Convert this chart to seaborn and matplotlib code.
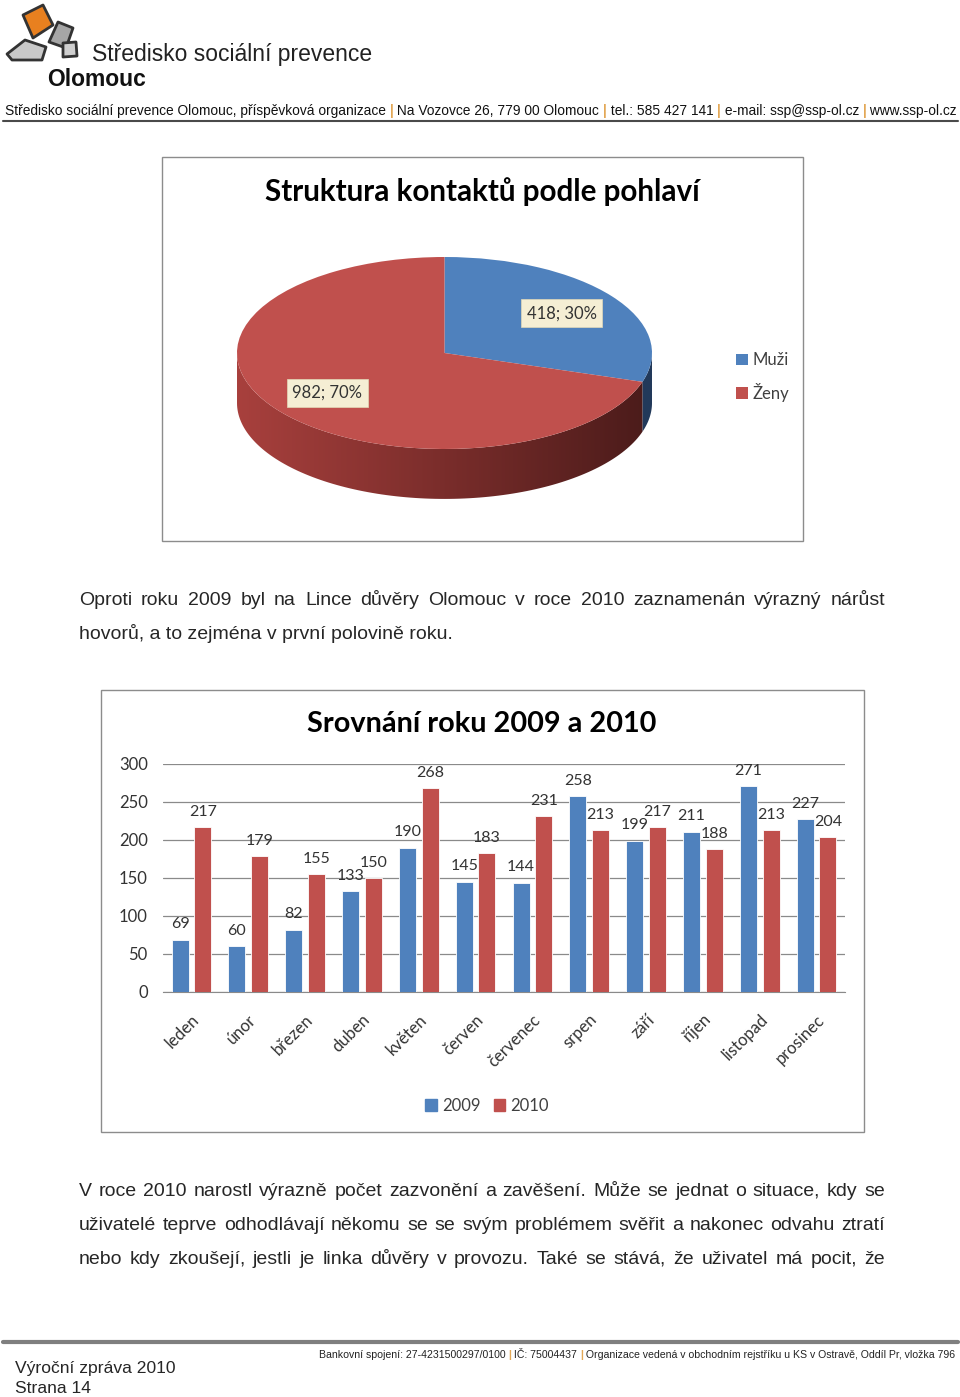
import numpy as np
import pandas as pd
import matplotlib
matplotlib.use("Agg")
import matplotlib.pyplot as plt
from matplotlib import font_manager
from matplotlib.patches import Polygon, Rectangle, Patch
from matplotlib.colors import LinearSegmentedColormap
import seaborn as sns

# ---- data ----
gender_labels = ["Muži", "Ženy"]
gender_counts = [418, 982]

months = ["leden", "únor", "březen", "duben", "květen", "červen",
          "červenec", "srpen", "září", "říjen", "listopad", "prosinec"]
calls_2009 = [69, 60, 82, 133, 190, 145, 144, 258, 199, 211, 271, 227]
calls_2010 = [217, 179, 155, 150, 268, 183, 231, 213, 217, 188, 213, 204]
years = ["2009", "2010"]

para1 = ["Oproti roku 2009 byl na Lince důvěry Olomouc v roce 2010 zaznamenán výrazný nárůst",
         "hovorů, a to zejména v první polovině roku."]
para2 = ["V roce 2010 narostl výrazně počet zazvonění a zavěšení. Může se jednat o situace, kdy se",
         "uživatelé teprve odhodlávají někomu se se svým problémem svěřit a nakonec odvahu ztratí",
         "nebo kdy zkoušejí, jestli je linka důvěry v provozu. Také se stává, že uživatel má pocit, že"]

BLUE = "#4F81BD"
RED = "#C0504D"
GOLD = "#E3A857"

sns.set_style("white")
plt.rcParams['font.family'] = ['Liberation Sans', 'DejaVu Sans']
chart_font = ['Lato', 'DejaVu Sans']
try:
    font_manager.findfont("Liberation Sans Narrow", fallback_to_default=False)
    narrow = ['Liberation Sans Narrow', 'DejaVu Sans']
except ValueError:
    narrow = ['Liberation Sans', 'DejaVu Sans']

W, H = 960, 1397
fig = plt.figure(figsize=(W / 100, H / 100), dpi=100)
page = fig.add_axes([0, 0, 1, 1])
page.set_xlim(0, W)
page.set_ylim(H, 0)
page.axis('off')
renderer = fig.canvas.get_renderer()


def rect(x0, y0, x1, y1):
    return [x0 / W, 1 - y1 / H, (x1 - x0) / W, (y1 - y0) / H]


def text_width(s, **kw):
    t = page.text(0, 0, s, **kw)
    w = t.get_window_extent(renderer).width
    t.remove()
    return w


def fit_size(s, width, **kw):
    return 10 * width / text_width(s, fontsize=10, **kw)


def justify(s, x0, x1, y, size):
    words = s.split()
    widths = [text_width(w, fontsize=size) for w in words]
    gap = (x1 - x0 - sum(widths)) / (len(words) - 1)
    x = x0
    for w, wd in zip(words, widths):
        page.text(x, y, w, fontsize=size, va='baseline')
        x += wd + gap


def segments(parts, x0, y, size, **kw):
    prefix = ""
    dot = text_width(".", fontsize=size, **kw)
    for s, c in parts:
        x = x0 + (text_width(prefix + ".", fontsize=size, **kw) - dot if prefix else 0)
        weight = 'bold' if c == GOLD else 'normal'
        page.text(x, y, s, fontsize=size, color=c, va='baseline', weight=weight, **kw)
        prefix += s


# ---- header ----
logo = [
    ([(7, 54), (25, 40), (46, 47), (42, 60), (12, 60)], "#C9C9C9"),
    ([(23, 15), (43, 5), (53, 25), (33, 38)], "#E8801F"),
    ([(58, 22), (73, 28), (66, 48), (49, 42)], "#A6A6A6"),
    ([(63, 43), (76, 42), (77, 56), (63, 57)], "#CFCFCF"),
]
for pts, col in logo:
    page.add_patch(Polygon(pts, closed=True, facecolor=col, edgecolor="#333333",
                           linewidth=2, joinstyle='round'))

s = "Středisko sociální prevence"
page.text(92, 61, s, fontsize=fit_size(s, 281), color="#222222", va='baseline')
s = "Olomouc"
page.text(47, 86, s, fontsize=fit_size(s, 99, weight='bold'), weight='bold',
          color="#111111", va='baseline')

addr = [("Středisko sociální prevence Olomouc, příspěvková organizace ", "#111111"),
        ("|", GOLD), (" Na Vozovce 26, 779 00 Olomouc ", "#111111"),
        ("|", GOLD), (" tel.: 585 427 141 ", "#111111"),
        ("|", GOLD), (" e-mail: ssp@ssp-ol.cz ", "#111111"),
        ("|", GOLD), (" www.ssp-ol.cz", "#111111")]
full = "".join(p for p, _ in addr)
segments(addr, 5, 115, fit_size(full, 953))
page.plot([3, 958], [121, 121], color="#4a4a4a", lw=1.5)

# ---- pie chart ----
page.add_patch(Rectangle((162, 157), 641, 384, facecolor='white', edgecolor='#8c8c8c', lw=1))
s = "Struktura kontaktů podle pohlaví"
page.text(482, 192, s, fontsize=fit_size(s, 437, family=chart_font, weight='bold'),
          family=chart_font, weight='bold', ha='center', va='center', color='black')

cx, cy, a, b, d = 444.5, 353, 207.5, 96, 0.52
m = 0.05
ax = fig.add_axes(rect(cx - (1 + m) * a, cy - (1 + m) * b, cx + (1 + m) * a, cy + (1 + d + m) * b))
ax.set_facecolor('none')
total = sum(gender_counts)
wedges, _, autotexts = ax.pie(gender_counts, colors=[BLUE, RED], startangle=90, counterclock=False,
                              autopct=lambda p: f"{round(p * total / 100)}; {p:.0f}%",
                              pctdistance=0.7,
                              textprops=dict(fontsize=12, family=chart_font, color='#333333'),
                              wedgeprops=dict(linewidth=0, zorder=2))
for t in autotexts:
    t.set_bbox(dict(boxstyle='square,pad=0.35', facecolor='#F5EED4', edgecolor='#E2D9B8', lw=0.5))
    t.set_zorder(5)

side_maps = [LinearSegmentedColormap.from_list("b", ["#3E6594", "#22395A"]),
             LinearSegmentedColormap.from_list("r", ["#A8403D", "#7A2D2B", "#4A1B1A"])]
grad = np.linspace(0, 1, 256).reshape(1, -1)
for w, cmap in zip(wedges, side_maps):
    for k in (-360, 0, 360):
        lo, hi = max(w.theta1 + k, -180), min(w.theta2 + k, 0)
        if hi <= lo:
            continue
        tt = np.radians(np.linspace(lo, hi, 120))
        pts = np.vstack([np.column_stack([np.cos(tt), np.sin(tt)]),
                         np.column_stack([np.cos(tt[::-1]), np.sin(tt[::-1]) - d])])
        poly = Polygon(pts, closed=True, facecolor='none', edgecolor='none', transform=ax.transData)
        ax.add_patch(poly)
        im = ax.imshow(grad, extent=(-1, 1, -1 - d, 0), cmap=cmap, aspect='auto', zorder=1)
        im.set_clip_path(poly)
ax.set_xlim(-1 - m, 1 + m)
ax.set_ylim(-1 - d - m, 1 + m)
ax.set_aspect('auto')
ax.axis('off')

fig.legend(wedges, gender_labels, loc='center left', bbox_to_anchor=(736 / W, 1 - 377 / H),
           frameon=False, prop=dict(family=chart_font, size=12), labelcolor='#404040',
           handlelength=0.7, handleheight=0.7, handletextpad=0.3, labelspacing=0.85,
           borderpad=0, borderaxespad=0)

# ---- paragraph 1 ----
size = fit_size(para1[1], 374)
justify(para1[0], 79, 885, 605, size)
page.text(79, 639, para1[1], fontsize=size, va='baseline')

# ---- bar chart ----
page.add_patch(Rectangle((101, 690), 763, 442, facecolor='white', edgecolor='#8c8c8c', lw=1))
s = "Srovnání roku 2009 a 2010"
page.text(482, 724, s, fontsize=fit_size(s, 350, family=chart_font, weight='bold'),
          family=chart_font, weight='bold', ha='center', va='center', color='black')

df = pd.DataFrame({"měsíc": months * 2,
                   "rok": [years[0]] * 12 + [years[1]] * 12,
                   "počet": calls_2009 + calls_2010})
bx = fig.add_axes(rect(163, 764, 845, 992))
bx.set_facecolor('none')
sns.barplot(data=df, x="měsíc", y="počet", hue="rok", order=months, hue_order=years,
            palette={years[0]: BLUE, years[1]: RED}, saturation=1, width=0.8, gap=0.25,
            errorbar=None, edgecolor='white', linewidth=0.6, legend=False, ax=bx, zorder=3)
for c in bx.containers:
    bx.bar_label(c, padding=6, fontsize=11.5, color='#333333', family=chart_font)
bx.set_xlim(-0.5, 11.5)
bx.set_ylim(0, 300)
bx.set_yticks(range(0, 301, 50))
bx.yaxis.grid(True, color='#8a8a8a', lw=0.9, zorder=0)
bx.set_axisbelow(True)
for sp in ['top', 'right', 'left']:
    bx.spines[sp].set_visible(False)
bx.spines['bottom'].set_color('#8a8a8a')
bx.set_xlabel("")
bx.set_ylabel("")
bx.tick_params(axis='y', length=0, pad=11, labelsize=12, labelcolor='#333333')
bx.tick_params(axis='x', length=0, pad=14, labelsize=12, labelcolor='#333333')
for lab in bx.get_yticklabels():
    lab.set_family(chart_font)
for lab in bx.get_xticklabels():
    lab.set_family(chart_font)
    lab.set_rotation(45)
    lab.set_ha('right')
    lab.set_rotation_mode('anchor')

fig.legend([Patch(color=BLUE), Patch(color=RED)], years, loc='center', ncol=2,
           bbox_to_anchor=(487 / W, 1 - 1106 / H), frameon=False,
           prop=dict(family=chart_font, size=12), labelcolor='#404040',
           handlelength=0.7, handleheight=0.7, handletextpad=0.3, columnspacing=0.8)

# ---- paragraph 2 ----
for i, line in enumerate(para2):
    justify(line, 79, 885, 1196 + 34 * i, size)

# ---- footer ----
page.plot([3, 958], [1342, 1342], color="#7f7f7f", lw=3)
foot = [("Bankovní spojení: 27-4231500297/0100 ", "#222222"), ("|", GOLD),
        (" IČ: 75004437 ", "#222222"), ("|", GOLD),
        (" Organizace vedená v obchodním rejstříku u KS v Ostravě, Oddíl Pr, vložka 796", "#222222")]
full = "".join(p for p, _ in foot)
segments(foot, 319, 1358, fit_size(full, 636, family=narrow), family=narrow)
s = "Výroční zpráva 2010"
page.text(15, 1373, s, fontsize=fit_size(s, 161, family=narrow), family=narrow, va='baseline')
s = "Strana 14"
page.text(15, 1393, "Strana 14", fontsize=fit_size(s, 76, family=narrow), family=narrow, va='baseline')

fig.savefig("out.png", dpi=100)
